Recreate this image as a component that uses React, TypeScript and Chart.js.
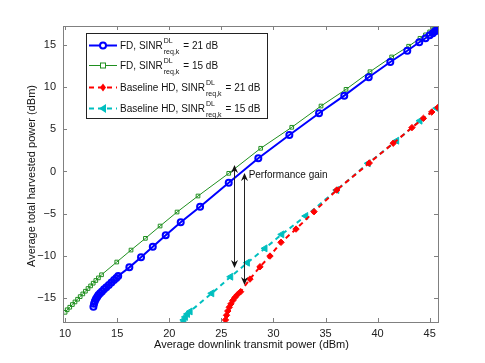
import React, { useEffect, useRef } from "react";
import { Chart, registerables } from "chart.js";
Chart.register(...registerables);

// ---------- Data ----------
const fd21X = [12.72, 12.78, 12.86, 12.96, 13.08, 13.2, 13.36, 13.54, 13.74, 13.96, 14.2, 14.45, 14.7, 14.92, 15.1,
  16.17, 17.29, 18.42, 19.66, 21.1, 22.96, 25.71, 28.55, 31.53, 34.38, 36.8, 39.15, 41.22, 42.85, 44.0,
  44.6, 45.0, 45.3, 45.5, 45.65, 45.75, 45.8];
const fd21Y = [-16.04, -15.7, -15.4, -15.12, -14.88, -14.66, -14.44, -14.22, -13.98, -13.72, -13.45, -13.17, -12.88, -12.62, -12.4,
  -11.37, -10.18, -8.93, -7.57, -6.03, -4.18, -1.33, 1.56, 4.32, 6.9, 8.99, 11.17, 12.98, 14.32, 15.32,
  15.8, 16.15, 16.4, 16.6, 16.72, 16.82, 16.9];

const fd15X = [10.0, 10.2, 10.45, 10.7, 10.95, 11.2, 11.45, 11.7, 11.95, 12.2, 12.45, 12.7, 12.95, 13.2, 13.5,
  14.96, 16.33, 17.71, 19.12, 20.75, 22.76, 25.71, 28.78, 31.76, 34.57, 36.97, 39.27, 41.35, 42.98, 44.07,
  44.6, 45.0, 45.3, 45.5, 45.65, 45.8];
const fd15Y = [-16.7, -16.4, -16.1, -15.78, -15.47, -15.15, -14.84, -14.52, -14.2, -13.88, -13.57, -13.25, -12.93, -12.62, -12.25,
  -10.74, -9.32, -7.93, -6.47, -4.81, -2.91, -0.22, 2.75, 5.24, 7.76, 9.74, 11.83, 13.58, 14.85, 15.79,
  16.2, 16.55, 16.8, 16.95, 17.05, 17.17];

const hd21X = [25.3, 25.4, 25.5, 25.62, 25.76, 25.92, 26.1, 26.3, 26.55, 26.85,
  27.75, 28.71, 29.67, 30.73, 32.17, 33.9, 36.08, 39.2, 41.5, 43.3, 44.4, 45.2, 45.8];
const hd21Y = [-18.2, -17.6, -17.05, -16.55, -16.1, -15.7, -15.3, -14.95, -14.6, -14.26,
  -12.76, -11.3, -10.03, -8.4, -6.83, -4.77, -2.2, 1.0, 3.35, 5.2, 6.3, 7.05, 7.6];

const hd15X = [21.25, 21.4, 21.55, 21.75, 22.0,
  24.08, 25.9, 27.5, 29.19, 30.8, 33.1, 36.08, 39.1, 41.83, 44.07, 45.67];
const hd15Y = [-18.0, -17.6, -17.25, -16.9, -16.6,
  -14.45, -12.48, -10.82, -9.12, -7.46, -5.28, -2.2, 0.97, 3.65, 6.02, 7.5];

const xTicks = [10, 15, 20, 25, 30, 35, 40, 45];
const yTicks = [-15, -10, -5, 0, 5, 10, 15];
const xRange = [9.8, 45.8];
const yRange = [-17.85, 17.25];

const legendMain = ["FD, SINR", "FD, SINR", "Baseline HD, SINR", "Baseline HD, SINR"];
const legendTail = ["= 21 dB", "= 15 dB", "= 21 dB", "= 15 dB"];

// annotation: two double-headed arrows [x, yTop, yBottom] and a text label
const arrowX = [26.22, 27.21];
const arrowTop = [0.77, -0.18];
const arrowBottom = [-11.45, -13.47];
const gainLabel = "Performance gain";
const gainPos = [27.62, -0.42];

const xTitle = "Average downlink transmit power (dBm)";
const yTitle = "Average total harvested power (dBm)";

const BLUE = "#0000ff";
const GREEN = "#1f8f1f";
const RED = "#ff0000";
const CYAN = "#00bfbf";
const FONT = "'Liberation Sans', Arial, sans-serif";

const pts = (xs: number[], ys: number[]) => xs.map((x, i) => ({ x, y: ys[i] }));

function drawArrowHead(ctx: CanvasRenderingContext2D, x: number, y: number, dir: number) {
  // dir: -1 up, +1 down (tip at x,y)
  const L = 8, W = 3.5, N = 5.5;
  ctx.beginPath();
  ctx.moveTo(x, y);
  ctx.lineTo(x - W, y - dir * L);
  ctx.lineTo(x, y - dir * N);
  ctx.lineTo(x + W, y - dir * L);
  ctx.closePath();
  ctx.fill();
}

const decorPlugin = {
  id: "decor",
  afterDatasetsDraw(chart: any) {
    const ctx = chart.ctx as CanvasRenderingContext2D;
    const { left, right, top, bottom } = chart.chartArea;
    const xs = chart.scales.x, ys = chart.scales.y;
    ctx.save();
    // axes box and inward ticks
    ctx.strokeStyle = "#808080";
    ctx.lineWidth = 1;
    ctx.strokeRect(Math.round(left) + 0.5, Math.round(top) + 0.5, Math.round(right - left), Math.round(bottom - top));
    ctx.beginPath();
    const tl = 4;
    xTicks.forEach((v) => {
      const px = Math.round(xs.getPixelForValue(v)) + 0.5;
      ctx.moveTo(px, bottom); ctx.lineTo(px, bottom - tl);
      ctx.moveTo(px, top); ctx.lineTo(px, top + tl);
    });
    yTicks.forEach((v) => {
      const py = Math.round(ys.getPixelForValue(v)) + 0.5;
      ctx.moveTo(left, py); ctx.lineTo(left + tl, py);
      ctx.moveTo(right, py); ctx.lineTo(right - tl, py);
    });
    ctx.stroke();

    // annotation arrows
    ctx.strokeStyle = "#222";
    ctx.fillStyle = "#111";
    arrowX.forEach((ax, i) => {
      const px = Math.round(xs.getPixelForValue(ax)) + 0.5;
      const pt = ys.getPixelForValue(arrowTop[i]);
      const pb = ys.getPixelForValue(arrowBottom[i]);
      ctx.beginPath();
      ctx.moveTo(px, pt + 2); ctx.lineTo(px, pb - 2);
      ctx.stroke();
      drawArrowHead(ctx, px, pt, -1);
      drawArrowHead(ctx, px, pb, 1);
    });
    ctx.fillStyle = "#111";
    ctx.font = `10px ${FONT}`;
    ctx.textBaseline = "middle";
    ctx.textAlign = "left";
    ctx.fillText(gainLabel, xs.getPixelForValue(gainPos[0]), ys.getPixelForValue(gainPos[1]));

    // axis titles
    ctx.fillStyle = "#111";
    ctx.font = `11px ${FONT}`;
    ctx.textAlign = "center";
    ctx.textBaseline = "middle";
    ctx.fillText(xTitle, (left + right) / 2 + 1, 345);
    ctx.save();
    ctx.translate(32, (top + bottom) / 2 + 2);
    ctx.rotate(-Math.PI / 2);
    ctx.fillText(yTitle, 0, 0);
    ctx.restore();

    // legend
    const bx = 86, by = 33, bw = 181, bh = 85;
    ctx.fillStyle = "#fff";
    ctx.fillRect(bx, by, bw, bh);
    ctx.strokeStyle = "#222";
    ctx.lineWidth = 1;
    ctx.strokeRect(bx + 0.5, by + 0.5, bw, bh);
    const rows = [45, 65, 87, 108];
    const colors = [BLUE, GREEN, RED, CYAN];
    const lw = [2, 1, 2, 2];
    rows.forEach((ry, i) => {
      ctx.strokeStyle = colors[i];
      ctx.lineWidth = lw[i];
      ctx.setLineDash(i >= 2 ? [5, 4] : []);
      ctx.beginPath();
      ctx.moveTo(89, ry + 0.5); ctx.lineTo(117, ry + 0.5);
      ctx.stroke();
      ctx.setLineDash([]);
      const mx = 103, my = ry + 0.5;
      if (i === 0) {
        ctx.beginPath(); ctx.arc(mx, my, 3, 0, Math.PI * 2);
        ctx.fillStyle = "#fff"; ctx.fill(); ctx.lineWidth = 2; ctx.stroke();
      } else if (i === 1) {
        ctx.fillStyle = "#fff"; ctx.fillRect(mx - 2.5, my - 2.5, 5, 5);
        ctx.lineWidth = 1; ctx.strokeRect(mx - 2.5, my - 2.5, 5, 5);
      } else if (i === 2) {
        ctx.fillStyle = RED; ctx.beginPath();
        ctx.moveTo(mx, my - 4); ctx.lineTo(mx + 3, my); ctx.lineTo(mx, my + 4); ctx.lineTo(mx - 3, my);
        ctx.closePath(); ctx.fill();
      } else {
        ctx.fillStyle = CYAN; ctx.beginPath();
        ctx.moveTo(mx - 4, my); ctx.lineTo(mx + 3, my - 4.5); ctx.lineTo(mx + 3, my + 4.5);
        ctx.closePath(); ctx.fill();
      }
      ctx.fillStyle = "#111";
      ctx.textAlign = "left";
      ctx.textBaseline = "middle";
      ctx.font = `10px ${FONT}`;
      ctx.fillText(legendMain[i], 120, ry + 1);
      const w = ctx.measureText(legendMain[i]).width;
      ctx.font = `7px ${FONT}`;
      ctx.fillText("DL", 120 + w + 1, ry - 4);
      ctx.fillText("req,k", 120 + w + 1, ry + 7);
      const sw = ctx.measureText("req,k").width;
      ctx.font = `10px ${FONT}`;
      ctx.fillText(legendTail[i], 120 + w + 1 + sw + 4, ry + 1);
    });
    ctx.restore();
  },
};

export default function App() {
  const ref = useRef<HTMLCanvasElement>(null);
  useEffect(() => {
    if (!ref.current) return;
    const chart = new Chart(ref.current, {
      type: "line",
      data: {
        datasets: [
          {
            data: pts(fd21X, fd21Y), borderColor: BLUE, borderWidth: 2, backgroundColor: "transparent",
            pointStyle: "circle", pointRadius: 3, pointBorderWidth: 2, pointBorderColor: BLUE, pointBackgroundColor: "rgba(0,0,0,0)",
          },
          {
            data: pts(fd15X, fd15Y), borderColor: GREEN, borderWidth: 1, backgroundColor: "transparent",
            pointStyle: "rect", pointRadius: 2.6, pointBorderWidth: 1, pointBorderColor: GREEN, pointBackgroundColor: "rgba(0,0,0,0)",
          },
          {
            data: pts(hd21X, hd21Y), borderColor: RED, borderWidth: 2, borderDash: [5, 4], backgroundColor: "transparent",
            pointStyle: "rectRot", pointRadius: 3.2, pointBorderWidth: 1, pointBorderColor: RED, pointBackgroundColor: RED,
          },
          {
            data: pts(hd15X, hd15Y), borderColor: CYAN, borderWidth: 2, borderDash: [5, 4], backgroundColor: "transparent",
            pointStyle: "triangle", pointRotation: -90, pointRadius: 4, pointBorderWidth: 1, pointBorderColor: CYAN, pointBackgroundColor: CYAN,
          },
        ],
      },
      options: {
        responsive: false,
        animation: false,
        devicePixelRatio: 1,
        layout: { padding: { top: 26, right: 47, left: 0, bottom: 0 } },
        plugins: { legend: { display: false }, tooltip: { enabled: false } },
        elements: { line: { tension: 0 } },
        scales: {
          x: {
            type: "linear", min: xRange[0], max: xRange[1],
            grid: { display: false, drawTicks: false }, border: { display: false },
            afterBuildTicks: (s: any) => { s.ticks = xTicks.map((v) => ({ value: v })); },
            afterFit: (s: any) => { s.height = 41; },
            ticks: { color: "#222", font: { family: FONT, size: 11 }, padding: 5, autoSkip: false, maxRotation: 0 },
          },
          y: {
            type: "linear", min: yRange[0], max: yRange[1],
            grid: { display: false, drawTicks: false }, border: { display: false },
            afterBuildTicks: (s: any) => { s.ticks = yTicks.map((v) => ({ value: v })); },
            afterFit: (s: any) => { s.width = 63; },
            ticks: {
              color: "#222", font: { family: FONT, size: 11 }, padding: 7, autoSkip: false,
              callback: (v: any) => (v < 0 ? "\u2212" + Math.abs(v) : String(v)),
            },
          },
        },
      },
      plugins: [decorPlugin],
    } as any);
    return () => chart.destroy();
  }, []);
  return (
    <div style={{ position: "absolute", left: 0, top: 0, width: 485, height: 363, background: "#fff" }}>
      <canvas ref={ref} width={485} height={363} />
    </div>
  );
}
